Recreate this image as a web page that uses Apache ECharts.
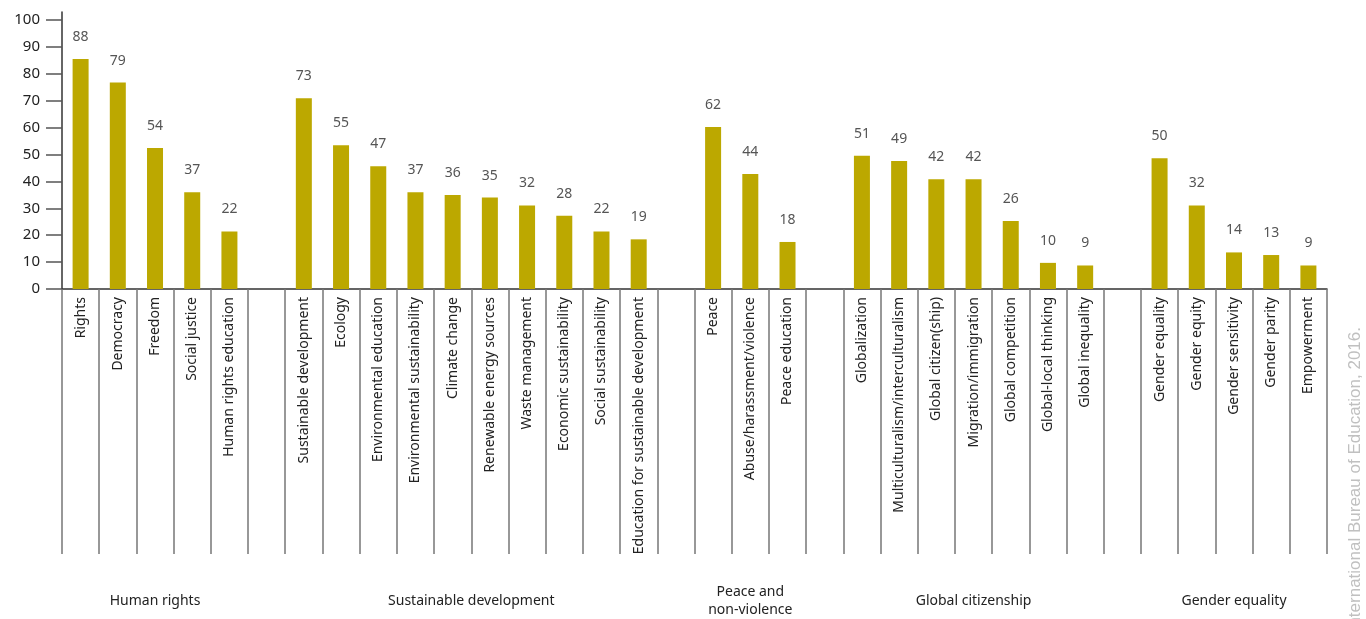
<!DOCTYPE html>
<html>
<head>
<meta charset="utf-8">
<script src="https://cdn.jsdelivr.net/npm/echarts@6/dist/echarts.min.js"></script>
<style>
html,body{margin:0;padding:0;background:#fff;}
#chart{width:1366px;height:619px;}
</style>
</head>
<body>
<div id="chart"></div>
<script>
// ---- Data ----
const groupNames = ['Human rights', 'Sustainable development', 'Peace and\nnon-violence', 'Global citizenship', 'Gender equality'];

const humanRightsCats = ['Rights', 'Democracy', 'Freedom', 'Social justice', 'Human rights education'];
const humanRightsVals = [88, 79, 54, 37, 22];

const sustainableCats = ['Sustainable development', 'Ecology', 'Environmental education', 'Environmental sustainability', 'Climate change', 'Renewable energy sources', 'Waste management', 'Economic sustainability', 'Social sustainability', 'Education for sustainable development'];
const sustainableVals = [73, 55, 47, 37, 36, 35, 32, 28, 22, 19];

const peaceCats = ['Peace', 'Abuse/harassment/violence', 'Peace education'];
const peaceVals = [62, 44, 18];

const citizenshipCats = ['Globalization', 'Multiculturalism/interculturalism', 'Global citizen(ship)', 'Migration/immigration', 'Global competition', 'Global-local thinking', 'Global inequality'];
const citizenshipVals = [51, 49, 42, 42, 26, 10, 9];

const genderCats = ['Gender equality', 'Gender equity', 'Gender sensitivity', 'Gender parity', 'Empowerment'];
const genderVals = [50, 32, 14, 13, 9];

const yTickValues = [0, 10, 20, 30, 40, 50, 60, 70, 80, 90, 100];
const sourceText = 'International Bureau of Education, 2016.';

// ---- Build combined arrays (one empty category between groups) ----
const groupCats = [humanRightsCats, sustainableCats, peaceCats, citizenshipCats, genderCats];
const groupVals = [humanRightsVals, sustainableVals, peaceVals, citizenshipVals, genderVals];
const categories = [];
const values = [];
const groupCenters = [];
groupCats.forEach((cats, gi) => {
  if (gi > 0) { categories.push(''); values.push('-'); }
  const start = categories.length;
  cats.forEach((c, i) => { categories.push(c); values.push(groupVals[gi][i]); });
  groupCenters.push(start + cats.length / 2);
});
const nCats = categories.length;

const chart = echarts.init(document.getElementById('chart'), null, {renderer: 'canvas'});
const FONT = '"Noto Sans", "Open Sans", sans-serif';

chart.setOption({
  backgroundColor: '#ffffff',
  animation: false,
  grid: {left: 62, right: 39, top: 12, bottom: 329, containLabel: false},
  xAxis: [
    {
      type: 'category',
      data: categories,
      boundaryGap: true,
      axisLine: {show: true, lineStyle: {color: '#333', width: 1.5}},
      axisTick: {show: true, interval: 0, length: 265, lineStyle: {color: '#777', width: 1.5}},
      axisLabel: {interval: 0, rotate: 90, margin: 8, fontSize: 14, color: '#222', fontFamily: FONT},
      splitLine: {show: false}
    },
    {
      type: 'value',
      min: 0,
      max: nCats,
      position: 'bottom',
      axisLine: {show: false},
      axisTick: {show: false},
      splitLine: {show: false},
      axisLabel: {
        show: true,
        customValues: groupCenters,
        margin: 312,
        verticalAlign: 'middle',
        lineHeight: 18,
        fontSize: 14,
        color: '#222',
        fontFamily: FONT,
        formatter: function (v) {
          const idx = groupCenters.findIndex(c => Math.abs(c - v) < 1e-6);
          return idx >= 0 ? groupNames[idx] : '';
        }
      }
    }
  ],
  yAxis: [
    {
      type: 'value',
      min: 0,
      max: 103,
      position: 'left',
      axisLine: {show: true, lineStyle: {color: '#333', width: 1.5}},
      axisTick: {show: true, customValues: yTickValues, length: 16, lineStyle: {color: '#555', width: 1.5}},
      axisLabel: {customValues: yTickValues, margin: 22, fontSize: 15, color: '#222', fontFamily: FONT},
      splitLine: {show: false}
    },
    {
      type: 'value',
      min: 0,
      max: 106,
      show: false,
      splitLine: {show: false}
    }
  ],
  series: [
    {
      type: 'bar',
      xAxisIndex: 0,
      yAxisIndex: 1,
      data: values,
      barWidth: 16,
      itemStyle: {color: '#bca800'},
      label: {
        show: true,
        position: 'top',
        distance: 15,
        fontSize: 14,
        color: '#555',
        fontFamily: FONT
      }
    }
  ],
  graphic: [
    {
      type: 'text',
      x: 1355,
      y: 327,
      rotation: Math.PI / 2,
      style: {
        text: sourceText,
        fill: '#c0c0c0',
        font: '17px "Liberation Sans", Arial, sans-serif',
        align: 'right',
        verticalAlign: 'middle'
      }
    }
  ]
});
</script>
</body>
</html>
